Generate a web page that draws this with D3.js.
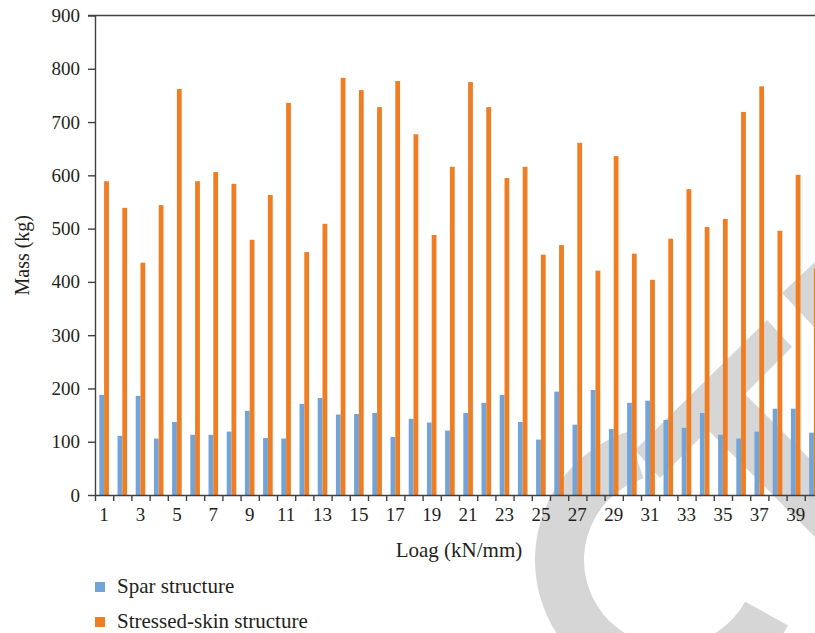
<!DOCTYPE html>
<html>
<head>
<meta charset="utf-8">
<script src="https://cdn.jsdelivr.net/npm/d3@7"></script>
<style>
  html, body { margin: 0; padding: 0; background: #fff; overflow: hidden; }
  svg { display: block; font-family: "Liberation Serif", "Times New Roman", serif; }
  .axis text { font-family: "Liberation Serif", "Times New Roman", serif; font-size: 19px; fill: #231f20; }
  .axis path, .axis line { stroke: #404040; stroke-width: 1.4; }
</style>
</head>
<body>
<script>
const WIDTH = 815;
const HEIGHT = 633;

// load values
const loads = d3.range(1, 41);
const sparMass = [188,111,186,106,137,113,113,119,158,107,106,171,182,151,152,154,109,143,136,121,
                  154,173,188,137,104,194,132,197,124,173,177,141,126,154,113,106,119,162,162,117];
const skinMass = [589,539,436,544,762,589,606,584,479,563,736,456,509,783,760,728,777,677,488,616,
                  775,728,595,616,451,469,661,421,636,453,404,481,574,503,518,719,767,496,601,425];
const seriesNames = ["Spar structure", "Stressed-skin structure"];
const seriesColors = ["#72a4d8", "#ee7d23"];
const yTicks = [0,100,200,300,400,500,600,700,800,900];

function setup(){
    let svg = d3.select("body")
        .append("svg")
        .attr("width", WIDTH)
        .attr("height", HEIGHT);

    let margin = {left: 95, top: 15.5, right: 823, bottom: 495};

    // grey watermark behind the plot
    let wm = svg.append("g").attr("fill", "#d6d6d6");
    wm.append("path")
        .attr("transform", "translate(670,560)")
        .attr("d", d3.arc()
            .innerRadius(86).outerRadius(135)
            .startAngle(119 * Math.PI / 180)
            .endAngle(342 * Math.PI / 180)());
    wm.append("path")
        .attr("d", "M635,450L767,320L792,347L745,394L815,464L815,537L708,430L660,478Z");
    wm.append("path")
        .attr("d", "M815,262L782,293L815,328Z");

    let x = d3.scaleBand()
        .domain(loads)
        .range([margin.left, margin.right]);
    let xs = d3.scaleBand()
        .domain(seriesNames)
        .range([0, x.bandwidth()])
        .paddingOuter(0.9);
    let y = d3.scaleLinear()
        .domain([0, 900])
        .range([margin.bottom, margin.top]);

    let rows = loads.map((d, i) => ({load: d, values: [sparMass[i], skinMass[i]]}));

    let groups = svg.selectAll(".grp")
        .data(rows)
        .enter()
        .append("g")
        .attr("class", "grp")
        .attr("transform", d => `translate(${x(d.load)},0)`);
    groups.selectAll("rect")
        .data(d => d.values.map((v, j) => ({name: seriesNames[j], value: v, color: seriesColors[j]})))
        .enter()
        .append("rect")
        .attr("x", d => xs(d.name))
        .attr("width", xs.bandwidth())
        .attr("y", d => y(d.value))
        .attr("height", d => y(0) - y(d.value))
        .style("fill", d => d.color);

    // top frame line
    svg.append("line")
        .attr("x1", margin.left - 7).attr("x2", margin.right)
        .attr("y1", y(900)).attr("y2", y(900))
        .style("stroke", "#404040").style("stroke-width", 1.4);

    // y axis
    svg.append("g")
        .attr("class", "axis")
        .attr("transform", `translate(${margin.left},0)`)
        .call(d3.axisLeft(y).tickValues(yTicks).tickSize(7).tickPadding(8).tickSizeOuter(0));

    // x axis labels (odd loads only)
    let xAxis = svg.append("g")
        .attr("class", "axis")
        .attr("transform", `translate(0,${margin.bottom})`)
        .call(d3.axisBottom(x).tickSize(0).tickPadding(13)
            .tickFormat(d => d % 2 === 1 ? d : ""));
    xAxis.select(".domain").remove();

    // x ticks at band boundaries
    let xb = d3.scaleLinear().domain([0, loads.length]).range([margin.left, margin.right]);
    svg.append("g")
        .attr("class", "axis")
        .attr("transform", `translate(0,${margin.bottom})`)
        .call(d3.axisBottom(xb).ticks(loads.length).tickSize(6).tickSizeOuter(0).tickFormat(""));

    svg.append("text")
        .attr("x", (margin.left + margin.right) / 2)
        .attr("y", 557)
        .attr("text-anchor", "middle")
        .style("font-size", "21px")
        .style("fill", "#231f20")
        .text("Loag (kN/mm)");

    svg.append("text")
        .attr("transform", `translate(29,${(margin.top + margin.bottom) / 2}) rotate(-90)`)
        .attr("text-anchor", "middle")
        .style("font-size", "20px")
        .style("fill", "#231f20")
        .text("Mass (kg)");

    // legend
    let legend = svg.selectAll(".legend")
        .data(seriesNames)
        .enter()
        .append("g")
        .attr("class", "legend")
        .attr("transform", (d, i) => `translate(95,${582 + i * 35})`);
    legend.append("rect")
        .attr("width", 10).attr("height", 10)
        .style("fill", (d, i) => seriesColors[i]);
    legend.append("text")
        .attr("x", 22).attr("y", 11)
        .style("font-size", "21px")
        .style("fill", "#231f20")
        .text(d => d);
}

window.addEventListener("load", setup);
</script>
</body>
</html>
